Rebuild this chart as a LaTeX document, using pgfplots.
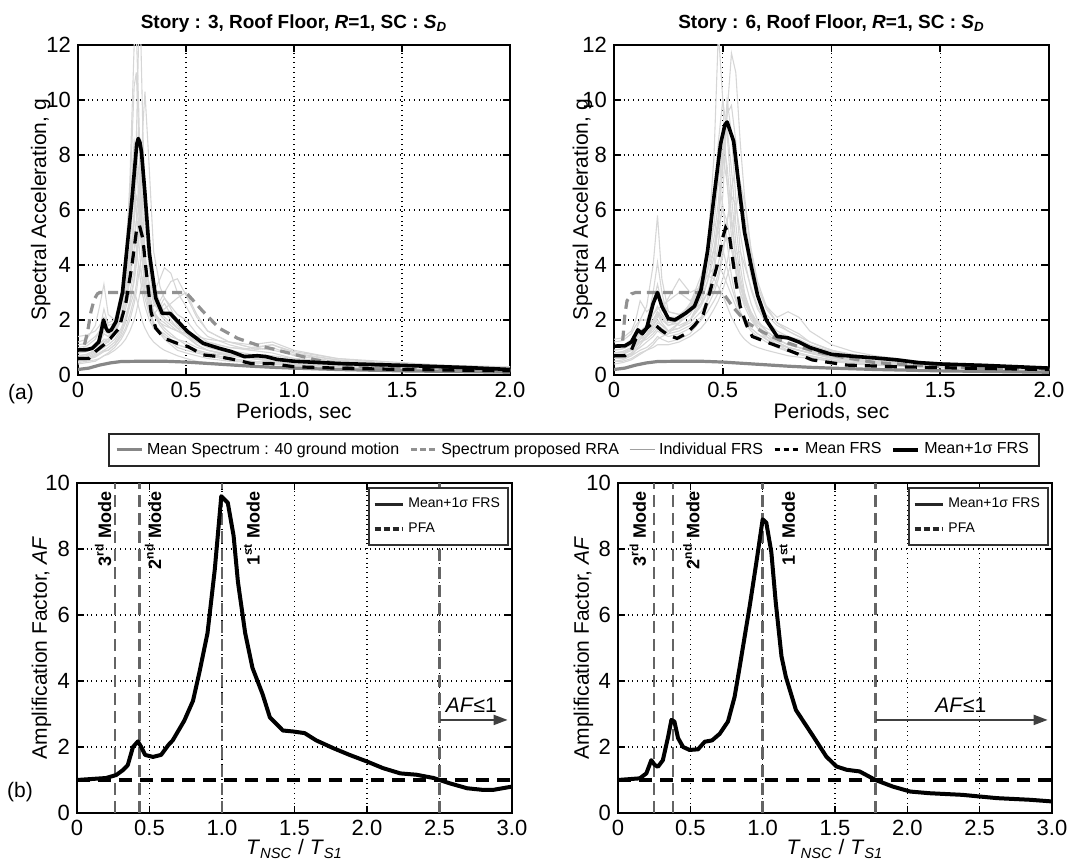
\documentclass[border=0pt]{standalone}
\usepackage{fontspec}
\setmainfont{Liberation Sans}
\usepackage{pgfplots}
\pgfplotsset{compat=1.18}
\usepackage{pgfplotstable}
\usetikzlibrary{arrows.meta}

\definecolor{indiv}{RGB}{214,214,214}
\definecolor{meansp}{RGB}{135,135,135}
\definecolor{rra}{RGB}{145,145,145}
\definecolor{modeln}{RGB}{100,100,100}
\definecolor{legsamp}{RGB}{160,160,160}

\pgfplotstableread{
x    g1   g2   g3   g4   g5   g6   g7   g8   g9   g10  g11  g12  g13  g14  g15  g16  g17  g18
0    0.8  1.0  0.6  0.9  0.7  1.2  0.5  0.4  0.6  1.4  0.9  0.55 0.7  0.5  1.1  0.45 0.65 0.8
0.04 0.85 1.05 0.65 0.95 0.75 1.3  0.55 0.45 0.6  1.45 0.9  0.6  0.75 0.55 1.15 0.5  0.7  0.85
0.08 1.0  1.3  0.8  1.1  0.9  1.8  0.7  0.5  0.7  1.6  1.0  0.75 0.9  0.65 1.4  0.55 0.85 1.0
0.10 1.2  1.6  0.9  1.3  1.1  2.5  0.8  0.6  0.8  1.8  1.1  0.9  1.0  0.75 1.6  0.6  1.0  1.2
0.12 1.5  2.0  1.1  1.6  1.3  3.3  0.9  0.7  0.9  2.1  1.3  1.0  1.2  0.85 2.4  0.7  1.2  1.5
0.14 1.4  1.6  1.2  1.5  1.2  2.2  1.0  0.8  0.9  1.9  1.3  1.1  1.2  0.9  1.8  0.75 1.3  1.4
0.17 1.8  1.7  1.6  1.7  1.5  2.0  1.2  1.0  1.1  2.0  1.5  1.3  1.6  1.1  1.9  0.9  1.7  1.6
0.20 2.8  2.2  2.5  2.0  2.2  3.0  1.6  1.3  1.5  2.6  2.0  1.7  2.6  1.4  2.5  1.1  2.6  2.1
0.22 4.0  2.8  3.8  2.4  3.0  4.5  2.0  1.6  1.9  3.2  2.6  2.1  3.8  1.7  3.2  1.3  3.5  2.6
0.24 7.0  3.8  6.5  3.0  4.5  6.5  2.6  2.0  2.5  4.0  3.6  2.7  6.0  2.2  4.3  1.6  4.6  3.4
0.26 12.0 6.0  10.5 3.8  7.0  7.0  3.4  2.6  3.0  5.0  5.5  3.5  8.5  2.8  5.6  2.0  5.0  4.6
0.27 12.5 8.5  11.0 4.5  8.0  6.0  4.0  3.0  2.8  5.6  7.2  4.2  8.0  3.3  6.5  2.3  4.6  5.6
0.28 10.0 12.0 9.0  5.5  7.5  5.0  4.8  3.6  2.5  6.0  9.0  5.0  6.5  4.0  6.2  2.7  4.0  6.8
0.29 7.0  12.5 6.5  7.0  6.0  4.0  5.5  4.1  2.2  5.7  8.0  5.8  5.0  3.8  5.2  3.1  3.4  7.5
0.30 5.0  9.0  4.5  9.0  4.5  3.2  5.0  4.5  1.9  5.0  6.0  6.5  3.9  3.4  4.2  3.5  2.9  6.8
0.31 3.8  6.5  3.5  10.3 3.5  2.8  4.2  4.2  1.7  4.2  4.5  6.0  3.1  3.0  3.5  3.3  2.5  5.5
0.33 2.8  4.0  2.5  7.5  2.6  2.2  3.3  3.3  1.4  3.2  3.0  4.5  2.3  2.6  2.7  2.7  2.0  3.8
0.35 2.2  2.8  1.9  4.5  2.2  1.8  3.0  2.6  1.2  2.7  2.3  3.3  1.9  2.5  2.3  2.2  1.7  2.8
0.38 1.8  2.4  1.5  3.2  2.5  1.6  3.5  2.3  1.0  2.3  1.9  2.6  1.6  2.7  2.0  1.9  1.5  2.2
0.40 1.6  2.6  1.3  2.8  2.8  1.5  3.9  2.4  0.9  2.1  1.7  2.3  1.4  3.0  1.9  1.8  1.4  2.0
0.43 1.4  2.2  1.1  2.5  2.4  1.3  3.7  2.6  0.8  1.9  1.5  2.0  1.2  3.4  1.7  1.7  1.2  1.8
0.46 1.3  1.8  0.9  2.2  1.9  1.1  3.0  2.8  0.7  1.7  1.3  1.7  1.0  3.5  1.6  1.6  1.1  1.6
0.50 1.1  1.5  0.8  2.0  1.5  1.0  2.5  3.0  0.6  1.6  1.2  1.4  0.9  2.9  1.5  1.5  1.0  1.4
0.55 0.9  1.2  0.7  1.5  1.1  0.9  1.8  2.2  0.5  1.4  1.0  1.1  0.8  2.1  1.3  1.3  0.85 1.1
0.60 0.8  1.0  0.6  1.2  0.9  0.8  1.4  1.6  0.45 1.3  0.9  0.9  0.7  1.6  1.2  1.1  0.75 0.9
0.70 0.6  0.8  0.5  1.0  0.7  0.7  1.1  1.2  0.4  1.2  0.75 0.7  0.55 1.2  1.0  0.9  0.6  0.75
0.80 0.5  0.7  0.45 0.9  0.6  0.6  0.9  1.0  0.35 1.1  0.65 0.6  0.45 1.0  0.95 0.75 0.5  0.65
0.90 0.45 0.6  0.4  1.0  0.5  0.5  0.8  1.1  0.3  1.2  0.55 0.55 0.4  0.9  1.1  0.7  0.45 0.55
1.00 0.4  0.5  0.35 0.7  0.4  0.45 0.6  0.8  0.3  0.9  0.45 0.45 0.35 0.75 0.85 0.6  0.4  0.45
1.20 0.3  0.4  0.3  0.5  0.35 0.35 0.5  0.55 0.25 0.6  0.35 0.35 0.3  0.55 0.6  0.45 0.3  0.35
1.40 0.25 0.35 0.25 0.4  0.3  0.3  0.4  0.4  0.2  0.5  0.3  0.3  0.25 0.4  0.45 0.35 0.25 0.3
1.70 0.2  0.25 0.2  0.3  0.2  0.25 0.3  0.3  0.15 0.35 0.22 0.2  0.18 0.3  0.35 0.25 0.2  0.22
2.00 0.15 0.2  0.15 0.25 0.15 0.2  0.2  0.25 0.1  0.3  0.18 0.15 0.12 0.22 0.25 0.2  0.15 0.18
}\graythree

\pgfplotstableread{
x    g1   g2   g3   g4   g5   g6   g7   g8   g9   g10  g11  g12  g13  g14  g15  g16  g17  g18
0    1.0  0.8  1.2  0.9  0.6  0.7  0.5  0.4  1.3  0.6  0.8  0.5  0.8  0.6  0.9  0.7  1.0  0.6
0.04 1.05 0.85 1.25 0.95 0.65 0.75 0.55 0.45 1.35 0.6  0.8  0.5  0.85 0.65 0.95 0.75 1.05 0.65
0.08 1.2  1.0  1.5  1.1  0.8  0.9  0.7  0.55 1.6  0.7  0.95 0.6  1.0  0.8  1.1  0.9  1.3  0.75
0.10 1.4  1.2  1.8  1.3  1.0  1.1  0.9  0.65 2.0  0.8  1.1  0.7  1.2  1.0  1.3  1.1  1.6  0.9
0.12 1.6  1.3  2.0  1.6  1.3  1.3  1.1  0.75 2.7  0.9  1.2  0.8  1.4  1.2  1.5  1.3  2.0  1.0
0.15 1.7  1.5  2.5  1.8  1.8  1.4  1.4  0.9  2.3  1.0  1.3  0.9  1.6  1.4  1.8  1.5  2.0  1.2
0.18 2.2  1.8  4.0  2.0  3.0  1.6  1.8  1.1  2.5  1.2  1.5  1.0  2.0  1.7  2.2  1.9  2.6  1.4
0.20 2.5  2.0  5.8  2.3  4.1  1.8  2.1  1.3  3.0  1.4  1.7  1.1  2.3  1.9  2.4  2.2  3.3  1.6
0.22 2.2  1.8  3.5  2.1  3.0  1.7  2.4  1.4  2.7  1.3  1.6  1.1  2.0  1.8  2.5  1.9  2.6  1.5
0.25 1.9  1.6  2.3  1.8  2.0  1.5  2.8  1.5  2.3  1.2  1.6  1.1  1.8  1.6  2.7  1.6  2.1  1.4
0.30 2.0  1.7  2.2  2.0  1.8  1.6  3.5  1.9  2.2  1.3  1.9  1.2  1.9  1.7  3.0  1.7  2.1  1.5
0.35 2.4  2.0  2.5  2.3  2.0  1.8  3.0  2.6  2.3  1.5  2.4  1.4  2.2  1.9  2.7  2.0  2.6  1.7
0.40 3.2  2.5  3.3  2.8  2.8  2.1  3.2  3.3  2.6  2.0  3.4  1.7  2.9  2.3  3.1  2.6  3.6  2.0
0.43 4.5  3.0  4.5  3.4  3.8  2.5  3.8  3.6  3.0  2.8  4.6  2.0  3.8  2.7  3.6  3.4  4.5  2.3
0.46 8.0  3.8  6.5  4.3  5.5  3.0  4.6  3.5  3.5  4.0  6.5  2.4  5.0  3.2  3.9  4.6  5.5  2.7
0.48 12.5 4.8  8.5  5.5  7.2  3.5  5.4  3.2  4.1  5.5  7.0  2.7  6.3  3.7  4.0  5.8  5.2  3.0
0.50 10.0 6.5  10.0 7.5  8.0  4.3  6.0  2.9  4.7  8.0  6.2  3.1  8.5  4.5  3.7  7.8  4.6  3.5
0.52 7.0  9.5  8.8  9.5  7.0  5.5  5.6  2.5  5.0  9.0  4.8  3.6  7.6  5.6  3.3  10.0 3.9  4.1
0.54 5.0  11.7 6.5  9.8  5.5  6.8  4.6  2.1  4.6  7.5  3.6  4.1  5.8  6.5  2.9  8.8  3.2  5.0
0.56 3.8  11.0 4.8  8.5  4.2  7.5  3.7  1.8  3.9  5.5  2.8  4.4  4.3  6.2  2.5  6.4  2.7  6.0
0.58 3.0  8.5  3.6  6.5  3.3  7.0  3.0  1.5  3.2  4.0  2.3  4.5  3.4  5.2  2.2  4.6  2.3  7.0
0.60 2.6  6.5  2.9  5.0  2.7  5.8  2.5  1.3  2.7  3.0  2.0  4.0  2.8  4.2  1.9  3.5  2.0  6.3
0.63 2.2  4.5  2.3  3.6  2.1  4.2  2.0  1.1  2.2  2.2  1.7  3.2  2.2  3.1  1.6  2.6  1.7  4.6
0.66 1.9  3.2  1.9  2.8  1.7  3.2  1.7  1.0  1.9  1.7  1.5  2.5  1.8  2.4  1.4  2.0  1.5  3.4
0.70 1.6  2.4  1.6  2.2  1.4  2.5  1.4  0.9  1.7  1.3  1.3  2.0  1.5  1.9  1.2  1.6  1.3  2.5
0.75 1.3  1.9  1.3  1.8  1.1  2.1  1.2  0.8  1.5  1.0  1.1  1.6  1.2  1.5  1.0  1.3  1.1  1.9
0.80 1.1  1.7  1.1  1.6  0.9  2.3  1.0  0.7  1.4  0.85 1.0  1.4  1.0  1.3  0.9  1.1  1.0  1.6
0.85 1.0  1.5  1.0  1.4  0.8  2.1  0.9  0.65 1.3  0.75 0.9  1.2  0.9  1.15 0.8  1.0  0.9  1.4
0.90 0.9  1.2  0.9  1.2  0.7  1.6  0.8  0.6  1.1  0.65 0.8  1.0  0.8  1.0  0.7  0.85 0.8  1.2
1.00 0.7  0.9  0.7  0.9  0.55 1.1  0.6  0.5  0.85 0.5  0.65 0.75 0.62 0.8  0.55 0.7  0.65 0.9
1.10 0.6  0.75 0.6  0.7  0.45 0.85 0.5  0.45 0.7  0.4  0.55 0.6  0.52 0.65 0.45 0.58 0.55 0.7
1.20 0.5  0.6  0.5  0.6  0.4  0.7  0.45 0.4  0.6  0.35 0.45 0.5  0.45 0.55 0.4  0.5  0.48 0.6
1.40 0.4  0.45 0.4  0.45 0.3  0.5  0.35 0.3  0.45 0.3  0.35 0.4  0.35 0.42 0.3  0.38 0.37 0.45
1.70 0.3  0.35 0.3  0.35 0.25 0.35 0.25 0.22 0.35 0.2  0.28 0.3  0.26 0.3  0.22 0.28 0.28 0.32
2.00 0.25 0.25 0.2  0.25 0.15 0.25 0.2  0.15 0.25 0.15 0.2  0.2  0.2  0.22 0.15 0.2  0.2  0.24
}\graysix

\pgfplotsset{
  myaxis/.style={
    scale only axis,
    axis line style={line width=0.8pt},
    grid=major,
    major grid style={black, dotted, line width=0.6pt},
    tick style={black, line width=0.8pt},
    major tick length=3.5pt,
    tick align=inside,
    tick label style={font=\fontsize{11}{12}\selectfont},
    label style={font=\fontsize{10.5}{12}\selectfont},
    title style={font=\fontsize{9.5}{11}\selectfont\bfseries, at={(0.5,1)}, anchor=base, yshift=2pt},
  },
  topaxis/.style={
    myaxis, xmin=0, xmax=2, ymin=0, ymax=12,
    xtick={0,0.5,1,1.5,2}, xticklabels={0,0.5,1.0,1.5,2.0},
    ytick={0,2,4,6,8,10,12}, yticklabels={0,2,4,6,8,10,12},
    xlabel={Periods, sec},
    xlabel style={at={(axis description cs:0.5,0)}, anchor=base, yshift=-22pt},
    ylabel={Spectral Acceleration, g},
  },
  botaxis/.style={
    myaxis, xmin=0, xmax=3, ymin=0, ymax=10,
    xtick={0,0.5,1,1.5,2,2.5,3}, xticklabels={0,0.5,1.0,1.5,2.0,2.5,3.0},
    ytick={0,2,4,6,8,10}, yticklabels={0,2,4,6,8,10},
    xlabel={\textit{T}\textsubscript{\textit{NSC}} / \textit{T}\textsubscript{\textit{S1}}},
    xlabel style={at={(axis description cs:0.5,0)}, anchor=base, yshift=-21pt},
    ylabel={Amplification Factor, \textit{AF}},
    legend image code/.code={\draw[#1] (0pt,0pt) -- (14pt,0pt);},
    legend cell align=left,
    legend style={at={(0.993,0.988)}, anchor=north east, draw=black!80, line width=1pt,
      font=\fontsize{7}{8.5}\selectfont, inner xsep=2pt, inner ysep=3pt, row sep=2pt},
  },
  indivline/.style={indiv, line width=0.55pt, forget plot},
  meanspline/.style={meansp, line width=1.6pt, forget plot},
  rraline/.style={rra, line width=1.6pt, dash pattern=on 5pt off 3pt, forget plot},
  meanline/.style={black, line width=1.6pt, dash pattern=on 6pt off 4pt, forget plot},
  sigline/.style={black, line width=1.8pt, line join=round, forget plot},
  modeline/.style={modeln, line width=1.2pt, dash pattern=on 6pt off 3pt, forget plot},
  afline/.style={black, line width=2pt, line join=round, forget plot},
  pfaline/.style={black, line width=1.7pt, dash pattern=on 6.5pt off 4pt, forget plot},
}

\newcommand{\modelabel}[3]{\node[rotate=90, anchor=east, inner sep=0pt, font=\fontsize{9}{10}\selectfont\bfseries] at (axis cs:#1,9.75) {#2\textsuperscript{#3} Mode};}

\begin{document}
\begin{tikzpicture}
\useasboundingbox (0,0) rectangle (546pt,430.5pt);

% ---------------- (a) left
\begin{axis}[topaxis, at={(39pt,243pt)}, anchor=south west, width=216pt, height=165pt,
  title={Story : 3, Roof Floor, \textit{R}=1, SC : \textit{S}\textsubscript{\textit{D}}},
  ylabel style={at={(axis description cs:-0.074,0.5)}, anchor=base},
  legend columns=5,
  legend image code/.code={\draw[#1] (0pt,0pt) -- (12.5pt,0pt);},
  legend style={at={(1.148,-0.227)}, anchor=center, draw=black!85, line width=0.9pt,
    font=\fontsize{8}{9.5}\selectfont, inner xsep=3pt, inner ysep=2.5pt,
    /tikz/every even column/.append style={column sep=3pt}},
]
\addlegendimage{meansp, line width=1.5pt}
\addlegendentry{Mean Spectrum : 40 ground motion}
\addlegendimage{rra, line width=1.5pt, dash pattern=on 3pt off 1.5pt}
\addlegendentry{Spectrum proposed RRA}
\addlegendimage{legsamp, line width=0.5pt}
\addlegendentry{Individual FRS}
\addlegendimage{black, line width=1.5pt, dash pattern=on 2.5pt off 2pt}
\addlegendentry{Mean FRS}
\addlegendimage{black, line width=1.8pt}
\addlegendentry{Mean+1σ FRS}
\pgfplotsinvokeforeach{1,...,18}{\addplot[indivline] table[x=x, y=g#1] {\graythree};}
\addplot[meanspline] coordinates {(0,0.2)(0.05,0.25)(0.1,0.36)(0.15,0.44)(0.2,0.49)(0.3,0.5)(0.4,0.5)(0.5,0.47)(0.6,0.42)(0.7,0.37)(0.8,0.32)(0.9,0.28)(1.0,0.25)(1.2,0.2)(1.5,0.15)(2.0,0.1)};
\addplot[rraline] coordinates {(0.03,1.1)(0.045,1.6)(0.06,2.3)(0.075,2.75)(0.09,2.95)(0.1,3.0)(0.5,3.0)(0.58,2.3)(0.654,1.7)(0.74,1.33)(0.83,1.09)(0.92,0.91)(1.0,0.75)(1.1,0.55)(1.25,0.35)(1.5,0.22)(2.0,0.12)};
\addplot[meanline] coordinates {(0,0.6)(0.05,0.6)(0.08,0.85)(0.12,1.1)(0.15,1.33)(0.19,1.7)(0.22,2.55)(0.25,4.0)(0.272,5.33)(0.284,5.45)(0.3,4.97)(0.316,3.76)(0.338,2.3)(0.36,1.7)(0.4,1.33)(0.46,1.15)(0.51,1.03)(0.58,0.73)(0.65,0.67)(0.73,0.55)(0.8,0.42)(0.89,0.42)(1.0,0.3)(1.2,0.25)(1.5,0.2)(2.0,0.15)};
\addplot[sigline] coordinates {(0,0.91)(0.04,0.92)(0.066,0.97)(0.096,1.2)(0.108,1.6)(0.118,2.0)(0.13,1.7)(0.14,1.58)(0.154,1.64)(0.176,1.94)(0.206,3.0)(0.228,4.7)(0.25,6.4)(0.272,8.4)(0.279,8.6)(0.287,8.45)(0.294,8.1)(0.309,6.7)(0.331,4.4)(0.36,2.8)(0.39,2.24)(0.426,2.24)(0.463,1.94)(0.507,1.58)(0.58,1.15)(0.654,0.97)(0.71,0.85)(0.77,0.67)(0.83,0.7)(0.87,0.67)(0.92,0.57)(1.0,0.5)(1.2,0.42)(1.5,0.35)(1.8,0.27)(2.0,0.2)};
\end{axis}

% ---------------- (a) right
\begin{axis}[topaxis, at={(307pt,243pt)}, anchor=south west, width=217.5pt, height=165pt,
  title={Story : 6, Roof Floor, \textit{R}=1, SC : \textit{S}\textsubscript{\textit{D}}},
  ylabel style={at={(axis description cs:-0.06,0.5)}, anchor=base},
]
\pgfplotsinvokeforeach{1,...,18}{\addplot[indivline] table[x=x, y=g#1] {\graysix};}
\addplot[meanspline] coordinates {(0,0.2)(0.05,0.25)(0.1,0.36)(0.15,0.44)(0.2,0.49)(0.3,0.5)(0.4,0.5)(0.5,0.47)(0.6,0.42)(0.7,0.37)(0.8,0.32)(0.9,0.28)(1.0,0.25)(1.2,0.2)(1.5,0.15)(2.0,0.1)};
\addplot[rraline] coordinates {(0.04,1.25)(0.05,2.2)(0.06,2.7)(0.08,2.95)(0.1,3.0)(0.5,3.0)(0.544,2.5)(0.605,1.94)(0.68,1.58)(0.76,1.27)(0.85,1.03)(0.96,0.79)(1.05,0.65)(1.2,0.45)(1.5,0.3)(2.0,0.15)};
\addplot[meanline] coordinates {(0,0.7)(0.05,0.7)(0.08,0.9)(0.1,1.3)(0.12,1.5)(0.15,1.7)(0.18,1.9)(0.2,1.75)(0.215,1.64)(0.25,1.45)(0.29,1.33)(0.33,1.5)(0.37,1.8)(0.41,2.2)(0.44,3.0)(0.475,4.0)(0.5,5.0)(0.513,5.35)(0.53,5.1)(0.544,4.3)(0.56,3.4)(0.58,2.5)(0.61,1.8)(0.636,1.4)(0.7,1.2)(0.76,1.03)(0.85,0.75)(0.91,0.55)(1.07,0.36)(1.3,0.3)(1.6,0.25)(2.0,0.2)};
\addplot[sigline] coordinates {(0,1.05)(0.05,1.06)(0.08,1.2)(0.11,1.64)(0.13,1.5)(0.15,1.7)(0.18,2.6)(0.2,3.0)(0.22,2.5)(0.25,2.05)(0.28,2.0)(0.3,2.1)(0.33,2.25)(0.37,2.5)(0.4,3.1)(0.43,4.5)(0.46,6.5)(0.49,8.4)(0.51,9.1)(0.52,9.2)(0.55,8.5)(0.58,6.5)(0.6,5.2)(0.63,4.0)(0.66,2.9)(0.7,2.0)(0.75,1.4)(0.8,1.35)(0.85,1.2)(0.9,1.0)(1.0,0.75)(1.1,0.68)(1.2,0.62)(1.3,0.55)(1.4,0.45)(1.5,0.4)(1.7,0.35)(2.0,0.25)};
\end{axis}

% ---------------- (b) left
\begin{axis}[botaxis, at={(38.5pt,24pt)}, anchor=south west, width=217.5pt, height=165pt,
  ylabel style={at={(axis description cs:-0.069,0.5)}, anchor=base},
]
\addlegendimage{black!85, line width=1.8pt}
\addlegendentry{Mean+1σ FRS}
\addlegendimage{black!85, line width=1.8pt, dash pattern=on 3pt off 1.5pt}
\addlegendentry{PFA}
\addplot[modeline] coordinates {(0.264,0)(0.264,10)};
\addplot[modeline] coordinates {(0.432,0)(0.432,10)};
\addplot[modeline] coordinates {(1.0,0)(1.0,10)};
\addplot[modeline] coordinates {(2.5,0)(2.5,10)};
\addplot[pfaline] coordinates {(0,1)(3,1)};
\addplot[afline] coordinates {(0,1.0)(0.2,1.06)(0.27,1.15)(0.317,1.3)(0.35,1.45)(0.386,2.0)(0.42,2.17)(0.443,2.0)(0.47,1.76)(0.524,1.7)(0.58,1.76)(0.63,2.06)(0.66,2.2)(0.74,2.8)(0.8,3.4)(0.846,4.3)(0.9,5.45)(0.95,7.37)(0.995,9.6)(1.04,9.4)(1.08,8.4)(1.11,7.0)(1.16,5.45)(1.21,4.4)(1.28,3.6)(1.33,2.9)(1.42,2.5)(1.49,2.47)(1.57,2.42)(1.65,2.2)(1.77,1.96)(1.88,1.76)(2.0,1.56)(2.11,1.36)(2.23,1.2)(2.34,1.16)(2.46,1.06)(2.57,0.9)(2.69,0.75)(2.8,0.7)(2.87,0.7)(3.0,0.8)};
\modelabel{0.18}{3}{rd}
\modelabel{0.525}{2}{nd}
\modelabel{1.206}{1}{st}
\draw[black!75, line width=1pt, -{Triangle[length=7pt,width=5pt]}] (axis cs:2.5,2.82) -- (axis cs:2.97,2.82);
\node[font=\fontsize{10.5}{12}\selectfont] at (axis cs:2.72,3.27) {\textit{AF}≤1};
\end{axis}

% ---------------- (b) right
\begin{axis}[botaxis, at={(309pt,24pt)}, anchor=south west, width=217pt, height=165pt,
  ylabel style={at={(axis description cs:-0.067,0.5)}, anchor=base},
]
\addlegendimage{black!85, line width=1.8pt}
\addlegendentry{Mean+1σ FRS}
\addlegendimage{black!85, line width=1.8pt, dash pattern=on 3pt off 1.5pt}
\addlegendentry{PFA}
\addplot[modeline] coordinates {(0.247,0)(0.247,10)};
\addplot[modeline] coordinates {(0.38,0)(0.38,10)};
\addplot[modeline] coordinates {(1.0,0)(1.0,10)};
\addplot[modeline] coordinates {(1.78,0)(1.78,10)};
\addplot[pfaline] coordinates {(0,1)(3,1)};
\addplot[afline] coordinates {(0,1.0)(0.15,1.05)(0.196,1.2)(0.23,1.6)(0.253,1.46)(0.276,1.4)(0.31,1.6)(0.346,2.3)(0.369,2.82)(0.39,2.77)(0.415,2.27)(0.45,2.0)(0.495,1.91)(0.553,1.93)(0.6,2.16)(0.65,2.2)(0.703,2.4)(0.76,2.77)(0.806,3.52)(0.84,4.4)(0.91,6.26)(0.956,7.58)(1.0,8.9)(1.025,8.8)(1.06,7.9)(1.09,6.4)(1.13,4.75)(1.16,4.13)(1.23,3.12)(1.35,2.32)(1.44,1.71)(1.51,1.41)(1.58,1.31)(1.67,1.26)(1.78,1.0)(1.9,0.8)(2.02,0.65)(2.15,0.6)(2.38,0.55)(2.62,0.45)(2.85,0.4)(3.0,0.35)};
\modelabel{0.137}{3}{rd}
\modelabel{0.507}{2}{nd}
\modelabel{1.17}{1}{st}
\draw[black!75, line width=1pt, -{Triangle[length=7pt,width=5pt]}] (axis cs:1.78,2.82) -- (axis cs:2.97,2.82);
\node[font=\fontsize{10.5}{12}\selectfont] at (axis cs:2.37,3.27) {\textit{AF}≤1};
\end{axis}

\node[font=\fontsize{10.5}{12}\selectfont, anchor=base] at (10.5pt,230.5pt) {(a)};
\node[font=\fontsize{10.5}{12}\selectfont, anchor=base] at (10pt,31.5pt) {(b)};
\end{tikzpicture}
\end{document}
